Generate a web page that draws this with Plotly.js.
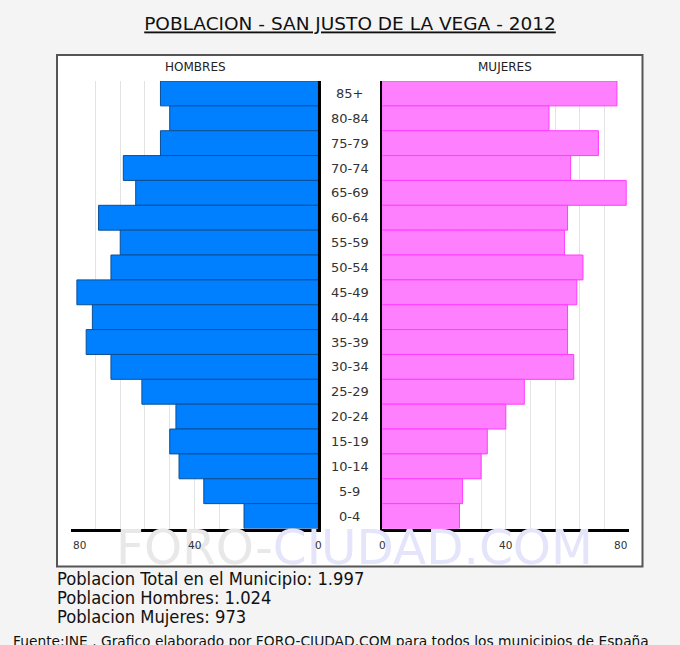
<!DOCTYPE html>
<html>
<head>
<meta charset="utf-8">
<script src="https://cdn.plot.ly/plotly-3.0.1.min.js"></script>
<style>html,body{margin:0;padding:0;background:#f4f4f4;}#chart{width:680px;height:645px;}</style>
</head>
<body>
<div id="chart"></div>
<script>
// ---- data ----
var ages = ["85+","80-84","75-79","70-74","65-69","60-64","55-59","50-54","45-49","40-44","35-39","30-34","25-29","20-24","15-19","10-14","5-9","0-4"];
var hombres = [51,48,51,63,59,71,64,67,78,73,75,67,57,46,48,45,37,24];
var mujeres = [76,54,70,61,79,60,59,65,63,60,60,62,46,40,34,32,26,25];
var tickValues = [0,40,80];
var tickLabels = ["0","40","80"];
var titleText = "POBLACION - SAN JUSTO DE LA VEGA - 2012";
var leftLabel = "HOMBRES";
var rightLabel = "MUJERES";
var summaryLines = ["Poblacion Total en el Municipio: 1.997","Poblacion Hombres: 1.024","Poblacion Mujeres: 973"];
var footer = "Fuente:INE . Grafico elaborado por FORO-CIUDAD.COM para todos los municipios de España";

// ---- layout helpers (pixel -> paper) ----
var W = 680, H = 645;
function X(px){ return px / W; }
function Y(py){ return 1 - py / H; }
var FONT = "DejaVu Sans, Verdana, sans-serif";

var traces = [
  {type:"bar", orientation:"h", y:ages, x:hombres, xaxis:"x", yaxis:"y", width:1,
   marker:{color:"#0080ff", line:{color:"#0b4f95", width:1}}, hoverinfo:"x+y"},
  {type:"bar", orientation:"h", y:ages, x:mujeres, xaxis:"x2", yaxis:"y2", width:1,
   marker:{color:"#ff80ff", line:{color:"#ff3cff", width:1}}, hoverinfo:"x+y"}
];

var gridC = "#e3e3e3";
function xAxis(domain, range, anchor){
  return {domain:domain, range:range, anchor:anchor, fixedrange:true,
    tickvals:tickValues, showticklabels:false, ticks:"",
    showgrid:true, gridcolor:gridC, gridwidth:1,
    minor:{dtick:8, tick0:0, showgrid:true, gridcolor:gridC, gridwidth:1, ticks:""},
    showline:true, linecolor:"#000", linewidth:3, zeroline:false};
}
var yDomain = [Y(528.5), Y(81)];
function yAxis(anchor, side){
  return {domain:yDomain, anchor:anchor, side:side, type:"category",
    categoryorder:"array", categoryarray:ages, range:[ages.length-0.5,-0.5],
    showticklabels:false, ticks:"", showgrid:false, zeroline:false,
    showline:true, linecolor:"#000", linewidth:2.5, fixedrange:true};
}

var annotations = [];
// watermark
annotations.push({xref:"paper", yref:"paper", x:X(354), y:Y(547), xanchor:"center", yanchor:"middle",
  showarrow:false, font:{family:FONT, size:48.5, color:"#e6e6e6"},
  text:'<span style="color:#e8e8e8">FORO-</span><span style="color:#e4e4fa">CIUDAD.COM</span>'});
// tick labels
tickValues.forEach(function(v,i){
  var anchL = v===80 ? "left" : "center";
  var anchR = v===80 ? "right" : "center";
  annotations.push({xref:"x", yref:"paper", x:v, y:Y(545), xanchor:anchL, yanchor:"middle",
    showarrow:false, text:tickLabels[i], font:{family:FONT, size:10.5, color:"#333"}});
  annotations.push({xref:"x2", yref:"paper", x:v, y:Y(545), xanchor:anchR, yanchor:"middle",
    showarrow:false, text:tickLabels[i], font:{family:FONT, size:10.5, color:"#333"}});
});
// age labels
ages.forEach(function(a){
  annotations.push({xref:"paper", yref:"y", x:X(350), y:a, xanchor:"center", yanchor:"middle",
    showarrow:false, text:a, font:{family:FONT, size:13, color:"#333"}});
});
// panel headers
annotations.push({xref:"paper", yref:"paper", x:X(195), y:Y(67), xanchor:"center", yanchor:"middle",
  showarrow:false, text:leftLabel, font:{family:FONT, size:12, color:"#222"}});
annotations.push({xref:"paper", yref:"paper", x:X(505), y:Y(67), xanchor:"center", yanchor:"middle",
  showarrow:false, text:rightLabel, font:{family:FONT, size:12, color:"#222"}});
// summary lines
summaryLines.forEach(function(t,i){
  annotations.push({xref:"paper", yref:"paper", x:X(55), y:Y(578 + i*19), xanchor:"left", yanchor:"middle",
    showarrow:false, text:t, font:{family:"DejaVu Sans Condensed, DejaVu Sans, sans-serif", size:18.2, color:"#111"}});
});
// footer
annotations.push({xref:"paper", yref:"paper", x:X(11), y:Y(641), xanchor:"left", yanchor:"middle",
  showarrow:false, text:footer, font:{family:FONT, size:13.8, color:"#111"}});

var layout = {
  width:W, height:H, margin:{l:0,r:0,t:0,b:0},
  paper_bgcolor:"#f4f4f4", plot_bgcolor:"rgba(0,0,0,0)",
  showlegend:false, bargap:0,
  title:{text:"<u>"+titleText+"</u>", x:X(350), y:Y(24), xanchor:"center", yanchor:"middle",
    xref:"paper", yref:"paper", font:{family:FONT, size:18.5, color:"#111"}},
  xaxis: xAxis([X(70.7), X(318.3)], [80, 0], "y"),
  xaxis2: xAxis([X(382.3), X(629.3)], [0, 80], "y2"),
  yaxis: yAxis("x", "right"),
  yaxis2: Object.assign(yAxis("x2", "left"), {matches:"y"}),
  shapes:[{type:"rect", xref:"paper", yref:"paper", x0:X(57), x1:X(642.5), y0:Y(566.5), y1:Y(55),
    fillcolor:"#ffffff", line:{color:"#555", width:2}, layer:"below"}],
  annotations: annotations
};

Plotly.newPlot("chart", traces, layout, {displayModeBar:false, staticPlot:true});
</script>
</body>
</html>
